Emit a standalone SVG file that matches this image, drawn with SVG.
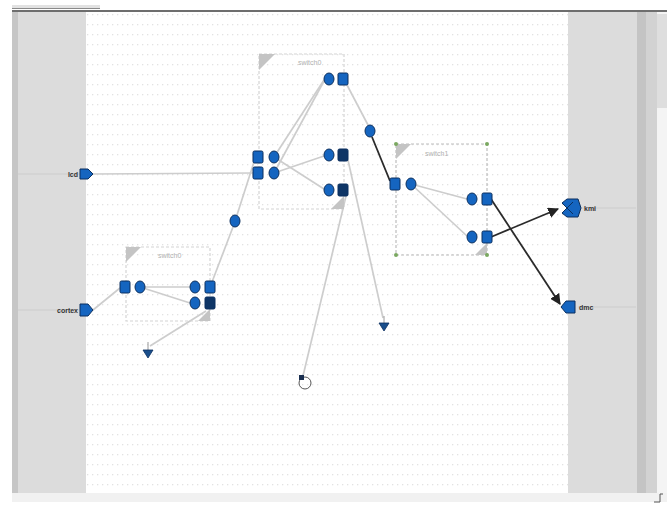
<svg xmlns="http://www.w3.org/2000/svg" width="670" height="506" viewBox="0 0 670 506">
  <defs>
    <pattern id="grid" width="5" height="10" patternUnits="userSpaceOnUse">
      <rect x="2" y="4" width="1.3" height="1.3" fill="#e2e2e2"/>
    </pattern>
    <marker id="arrowDark" viewBox="0 0 10 10" refX="9" refY="5" markerWidth="6" markerHeight="6" orient="auto-start-reverse">
      <path d="M0,0 L10,5 L0,10 z" fill="#222"/>
    </marker>
    <style>
      .port { fill: #1565c0; stroke: #0b2f5e; stroke-width: 1; }
      .portDark { fill: #0e3566; stroke: #0b2f5e; stroke-width: 1; }
      .wire { fill: none; stroke: #cdcdcd; stroke-width: 1.7; }
      .wireDark { fill: none; stroke: #2a2a2a; stroke-width: 1.8; }
      .box { fill: none; stroke: #d4d4d4; stroke-width: 1.2; stroke-dasharray: 3 2; }
      .corner { fill: #c4c4c4; }
      .boxLabel { font-family: "Liberation Sans", sans-serif; font-size: 7px; fill: #b0b0b0; }
      .portLabel { font-family: "Liberation Sans", sans-serif; font-size: 7px; font-weight: bold; fill: #333; }
      .edgeLine { stroke: #cccccc; stroke-width: 1.2; }
    </style>
  </defs>

  <!-- window chrome -->
  <rect x="0" y="0" width="670" height="506" fill="#ffffff"/>
  <rect x="12" y="5" width="88" height="4" fill="#e2e2e2"/>
  <line x1="12" y1="8.5" x2="100" y2="8.5" stroke="#8a8a8a" stroke-width="1"/>
  <line x1="12" y1="11" x2="667" y2="11" stroke="#6e6e6e" stroke-width="2"/>

  <!-- side panels -->
  <rect x="12" y="12" width="6" height="481" fill="#c6c6c6"/>
  <rect x="18" y="12" width="68" height="481" fill="#dcdcdc"/>
  <rect x="86" y="12" width="482" height="481" fill="#ffffff"/>
  <rect x="86" y="12" width="482" height="481" fill="url(#grid)"/>
  <rect x="568" y="12" width="69" height="481" fill="#dcdcdc"/>
  <rect x="637" y="12" width="9" height="481" fill="#c4c4c4"/>
  <rect x="646" y="12" width="11" height="481" fill="#d2d2d2"/>
  <rect x="657" y="12" width="10" height="481" fill="#f4f4f4"/>
  <rect x="657" y="14" width="10" height="94" fill="#dedede"/>
  <rect x="12" y="493" width="655" height="9" fill="#f1f1f1"/>
  <path d="M654,502 L660,502 L660,494 L663,494" fill="none" stroke="#555" stroke-width="1"/>

  <!-- boundary stubs in side panels -->
  <line class="edgeLine" x1="18" y1="174" x2="80" y2="174"/>
  <line class="edgeLine" x1="18" y1="310" x2="80" y2="310"/>
  <line class="edgeLine" x1="580" y1="208" x2="636" y2="208"/>
  <line class="edgeLine" x1="578" y1="307" x2="636" y2="307"/>

  <!-- connectors -->
  <g id="connectors">
    <line class="wire" x1="93" y1="174" x2="253" y2="173"/>
    <line class="wire" x1="93" y1="310" x2="120" y2="288"/>
    <line class="wire" x1="140" y1="287" x2="190" y2="287"/>
    <line class="wire" x1="140" y1="287" x2="190" y2="303"/>
    <line class="wire" x1="206" y1="311" x2="150" y2="346"/>
    <line class="wire" x1="212" y1="282" x2="233" y2="227"/>
    <line class="wire" x1="237" y1="215" x2="254" y2="162"/>
    <line class="wire" x1="274" y1="157" x2="324" y2="80"/>
    <line class="wire" x1="274" y1="173" x2="324" y2="81"/>
    <line class="wire" x1="274" y1="157" x2="324" y2="189"/>
    <line class="wire" x1="274" y1="173" x2="324" y2="156"/>
    <line class="wire" x1="347" y1="85" x2="368" y2="125"/>
    <line class="wire" x1="348" y1="160" x2="383" y2="318"/>
    <line class="wire" x1="346" y1="196" x2="303" y2="376"/>
    <line class="wire" x1="411" y1="184" x2="467" y2="199"/>
    <line class="wire" x1="411" y1="184" x2="467" y2="236"/>
    <line class="wireDark" x1="372" y1="137" x2="390" y2="181"/>
    <line class="wireDark" x1="491" y1="199" x2="560" y2="304" marker-end="url(#arrowDark)"/>
    <line class="wireDark" x1="491" y1="237" x2="558" y2="209" marker-end="url(#arrowDark)"/>
  </g>

  <!-- boundary ports -->
  <g id="port-lcd">
    <path class="port" d="M80,169 L88,169 L93,174 L88,179 L80,179 z"/>
    <text class="portLabel" x="78" y="177" text-anchor="end">lcd</text>
  </g>
  <g id="port-cortex">
    <path class="port" d="M80,304 L88,304 L93,310 L88,316 L80,316 z"/>
    <text class="portLabel" x="78" y="313" text-anchor="end">cortex</text>
  </g>
  <g id="port-kmi">
    <path class="port" d="M562,203 L567,199 L578,199 L581,208 L578,217 L567,217 L562,213 L567,208 z"/>
    <path d="M573,202 L567,208 L573,214" fill="none" stroke="#0b2f5e" stroke-width="1"/>
    <text class="portLabel" x="584" y="211">kmi</text>
  </g>
  <g id="port-dmc">
    <path class="port" d="M561,307 L566,301 L575,301 L575,313 L566,313 z"/>
    <text class="portLabel" x="579" y="310">dmc</text>
  </g>

  <!-- switch with two outputs -->
  <g id="switch-a">
    <rect class="box" x="126" y="247" width="84" height="74"/>
    <path class="corner" d="M126,247 L141,247 L126,262 z"/>
    <path class="corner" d="M210,321 L198,321 L210,309 z"/>
    <text class="boxLabel" x="158" y="258">switch0</text>
    <rect class="port" x="120" y="281" width="10" height="12" rx="1.5"/>
    <ellipse class="port" cx="140" cy="287" rx="5" ry="6"/>
    <ellipse class="port" cx="195" cy="287" rx="5" ry="6"/>
    <rect class="port" x="205" y="281" width="10" height="12" rx="1.5"/>
    <ellipse class="port" cx="195" cy="303" rx="5" ry="6"/>
    <rect class="portDark" x="205" y="297" width="10" height="12" rx="1.5"/>
  </g>

  <!-- standalone relay points -->
  <g id="relay-a">
    <ellipse class="port" cx="235" cy="221" rx="5" ry="6"/>
  </g>
  <g id="relay-b">
    <ellipse class="port" cx="370" cy="131" rx="5" ry="6"/>
  </g>

  <!-- central switch -->
  <g id="switch-b">
    <rect class="box" x="259" y="54" width="85" height="155"/>
    <path class="corner" d="M259,54 L275,54 L259,70 z"/>
    <path class="corner" d="M344,209 L331,209 L344,196 z"/>
    <text class="boxLabel" x="298" y="65">switch0</text>
    <rect class="port" x="253" y="151" width="10" height="12" rx="1.5"/>
    <ellipse class="port" cx="274" cy="157" rx="5" ry="6"/>
    <rect class="port" x="253" y="167" width="10" height="12" rx="1.5"/>
    <ellipse class="port" cx="274" cy="173" rx="5" ry="6"/>
    <ellipse class="port" cx="329" cy="79" rx="5" ry="6"/>
    <rect class="port" x="338" y="73" width="10" height="12" rx="1.5"/>
    <ellipse class="port" cx="329" cy="155" rx="5" ry="6"/>
    <rect class="portDark" x="338" y="149" width="10" height="12" rx="1.5"/>
    <ellipse class="port" cx="329" cy="190" rx="5" ry="6"/>
    <rect class="portDark" x="338" y="184" width="10" height="12" rx="1.5"/>
  </g>

  <!-- right switch (selected) -->
  <g id="switch-c">
    <rect x="396" y="144" width="91" height="111" fill="none" stroke="#bdbdbd" stroke-width="1.2" stroke-dasharray="3 2"/>
    <path class="corner" d="M396,144 L411,144 L396,159 z"/>
    <path class="corner" d="M487,255 L475,255 L487,243 z"/>
    <text class="boxLabel" x="425" y="156">switch1</text>
    <circle cx="396" cy="144" r="2" fill="#7aa860"/>
    <circle cx="487" cy="144" r="2" fill="#7aa860"/>
    <circle cx="396" cy="255" r="2" fill="#7aa860"/>
    <circle cx="487" cy="255" r="2" fill="#7aa860"/>
    <rect class="port" x="390" y="178" width="10" height="12" rx="1.5"/>
    <ellipse class="port" cx="411" cy="184" rx="5" ry="6"/>
    <ellipse class="port" cx="472" cy="199" rx="5" ry="6"/>
    <rect class="port" x="482" y="193" width="10" height="12" rx="1.5"/>
    <ellipse class="port" cx="472" cy="237" rx="5" ry="6"/>
    <rect class="port" x="482" y="231" width="10" height="12" rx="1.5"/>
  </g>

  <!-- open-ended outputs -->
  <g id="sink-a">
    <line x1="148" y1="342" x2="148" y2="350" stroke="#9a9a9a" stroke-width="1"/>
    <path d="M143,350 L153,350 L148,358 z" fill="#1a4f8c" stroke="#0b2f5e" stroke-width="0.8"/>
  </g>
  <g id="sink-b">
    <line x1="384" y1="316" x2="384" y2="323" stroke="#9a9a9a" stroke-width="1"/>
    <path d="M379,323 L389,323 L384,331 z" fill="#1a4f8c" stroke="#0b2f5e" stroke-width="0.8"/>
  </g>
  <g id="loop-c">
    <circle cx="305" cy="383" r="6" fill="none" stroke="#555" stroke-width="1"/>
    <rect x="299" y="375" width="5" height="5" fill="#1a2f50"/>
  </g>
</svg>
